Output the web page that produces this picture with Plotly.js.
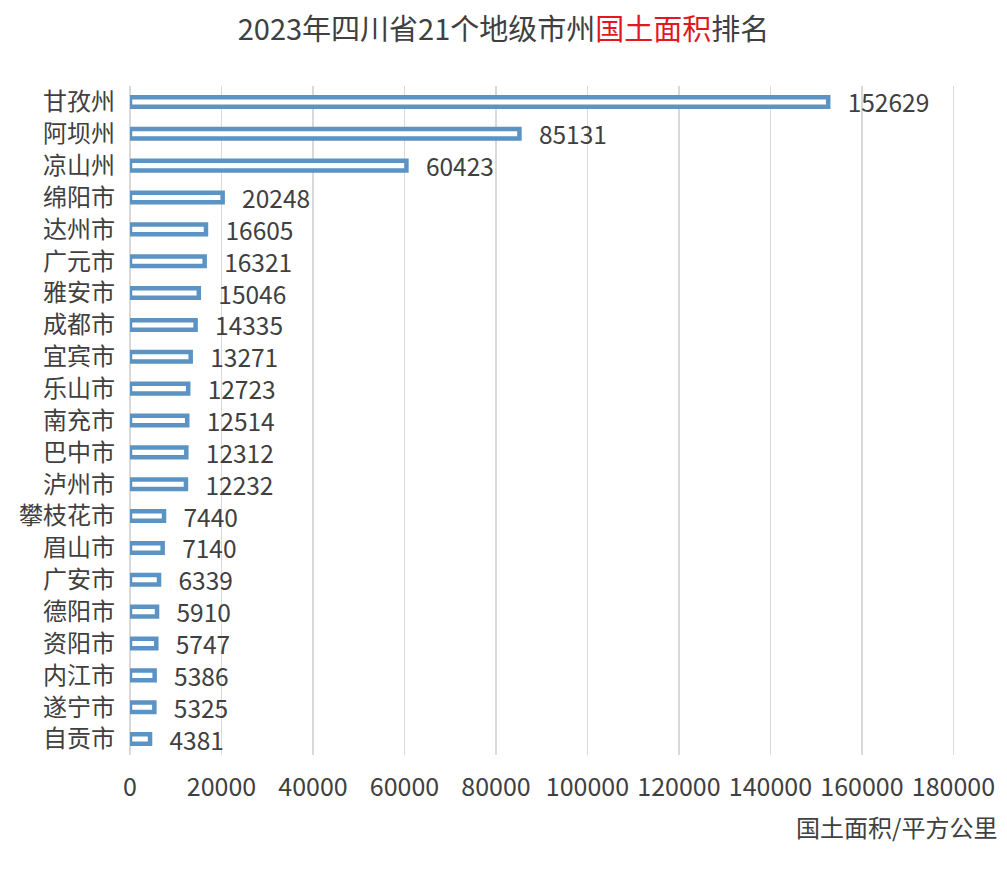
<!DOCTYPE html>
<html>
<head>
<meta charset="utf-8">
<script src="https://cdn.plot.ly/plotly-3.0.1.min.js"></script>
<style>html,body{margin:0;padding:0;background:#fff;}#chart{width:1007px;height:873px;}</style>
</head>
<body>
<div id="chart"></div>
<script>
const cities = ["甘孜州","阿坝州","凉山州","绵阳市","达州市","广元市","雅安市","成都市","宜宾市","乐山市","南充市","巴中市","泸州市","攀枝花市","眉山市","广安市","德阳市","资阳市","内江市","遂宁市","自贡市"];
const areas = [152629,85131,60423,20248,16605,16321,15046,14335,13271,12723,12514,12312,12232,7440,7140,6339,5910,5747,5386,5325,4381];
const xTicks = [0,20000,40000,60000,80000,100000,120000,140000,160000,180000];
const titleText = '2023年四川省21个地级市州<span style="color:#e3171f">国土面积</span>排名';
const axisTitle = '国土面积/平方公里';

const font = '"Noto Sans CJK SC", "Noto Sans", sans-serif';
const textColor = '#404040';

const trace = {
  type: 'bar',
  orientation: 'h',
  y: cities,
  x: areas,
  width: 0.3,
  marker: {color: '#ffffff', line: {color: '#5b93c4', width: 4.5}},
  texttemplate: '\u00a0\u00a0\u00a0%{x:d}',
  textposition: 'outside',
  constraintext: 'none',
  cliponaxis: false,
  textfont: {family: font, size: 24.5, color: textColor},
  hoverinfo: 'skip'
};

const layout = {
  width: 1007, height: 873,
  margin: {l: 130, r: 49, t: 86, b: 118},
  paper_bgcolor: '#fff', plot_bgcolor: '#fff',
  showlegend: false,
  font: {family: font, color: textColor},
  title: {text: titleText, x: 0.5, xanchor: 'center', y: 1 - 30/873, yanchor: 'middle',
          font: {family: font, size: 29, color: textColor}},
  xaxis: {
    range: [0, 181000], tickvals: xTicks, ticktext: xTicks.map(String),
    showgrid: true, gridcolor: '#d9d9d9', gridwidth: 1.5,
    zeroline: true, zerolinecolor: '#d9d9d9', zerolinewidth: 1.5,
    showline: false, ticks: '', ticklabelstandoff: 15,
    tickfont: {family: font, size: 25, color: textColor}, fixedrange: true
  },
  yaxis: {
    type: 'category', autorange: 'reversed',
    showgrid: false, zeroline: false, showline: false, ticks: '',
    ticklabelstandoff: 14,
    tickfont: {family: font, size: 24, color: textColor}, fixedrange: true
  },
  annotations: [{
    text: axisTitle, xref: 'paper', yref: 'paper', x: 1, y: 0,
    xanchor: 'right', yanchor: 'middle', xshift: 41, yshift: -71,
    showarrow: false, font: {family: font, size: 24, color: textColor}
  }]
};

Plotly.newPlot('chart', [trace], layout, {displayModeBar: false, staticPlot: true});
</script>
</body>
</html>
